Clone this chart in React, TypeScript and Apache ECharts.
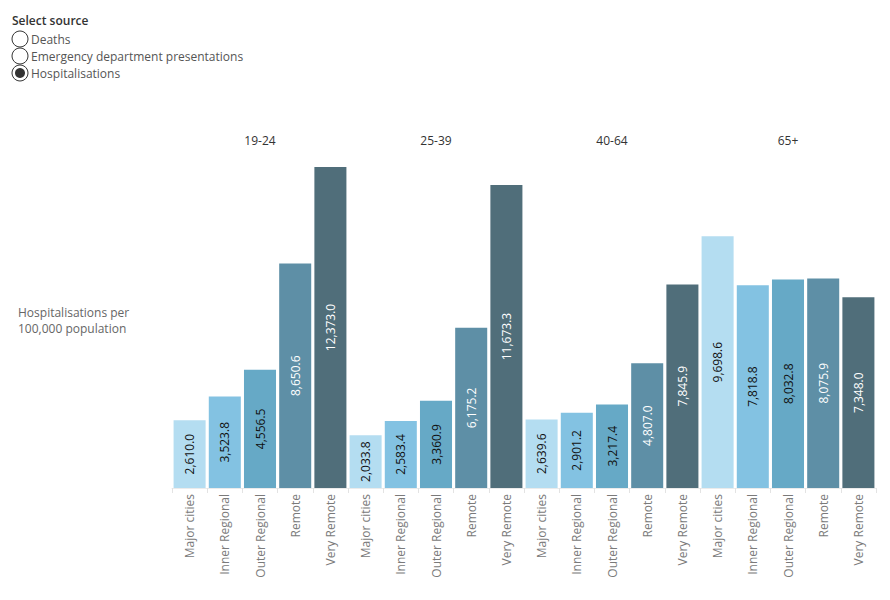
import React, { useEffect, useRef } from "react";
import * as echarts from "echarts";

const ageGroups = ["19-24", "25-39", "40-64", "65+"];
const remoteness = ["Major cities", "Inner Regional", "Outer Regional", "Remote", "Very Remote"];
const values: number[][] = [
  [2610.0, 3523.8, 4556.5, 8650.6, 12373.0],
  [2033.8, 2583.4, 3360.9, 6175.2, 11673.3],
  [2639.6, 2901.2, 3217.4, 4807.0, 7845.9],
  [9698.6, 7818.8, 8032.8, 8075.9, 7348.0],
];
const sources = ["Deaths", "Emergency department presentations", "Hospitalisations"];
const selectedSource = "Hospitalisations";
const yTitle = ["Hospitalisations per", "100,000 population"];

const barColors = ["#b4ddf1", "#83c2e2", "#66a9c6", "#5e8fa6", "#506e7a"];
const labelColors = ["#111", "#111", "#111", "#fff", "#fff"];

const FONT = "'Open Sans', 'Noto Sans', sans-serif";
const fmt = new Intl.NumberFormat("en-US", { minimumFractionDigits: 1, maximumFractionDigits: 1 });

export default function App() {
  const ref = useRef<HTMLDivElement>(null);
  useEffect(() => {
    if (!ref.current) return;
    const chart = echarts.init(ref.current, null, { renderer: "svg" });
    const gridLeft0 = 172;
    const gridW = 176;
    const grids = ageGroups.map((_, i) => ({
      left: gridLeft0 + i * gridW,
      width: gridW,
      top: 150.7,
      bottom: 112,
    }));
    const xAxes: any[] = [];
    const yAxes: any[] = [];
    const series: any[] = [];
    ageGroups.forEach((g, i) => {
      xAxes.push({
        type: "category",
        gridIndex: i,
        data: remoteness,
        axisLine: { show: true, lineStyle: { color: "#ebebeb" } },
        axisTick: { show: true, length: 5, lineStyle: { color: "#e3e3e3" } },
        axisLabel: {
          rotate: 90,
          color: "#7a7a7a",
          fontSize: 12,
          fontFamily: FONT,
          margin: 6,
        },
      });
      xAxes.push({
        type: "category",
        gridIndex: i,
        position: "top",
        data: [g],
        axisLine: { show: false },
        axisTick: { show: false },
        axisLabel: { color: "#333", fontSize: 12, fontFamily: FONT, margin: 4 },
      });
      yAxes.push({
        type: "value",
        gridIndex: i,
        min: 0,
        max: 13000,
        show: false,
        splitLine: { show: false },
      });
      series.push({
        type: "bar",
        xAxisIndex: i * 2,
        yAxisIndex: i,
        barCategoryGap: "9%",
        data: values[i].map((v, j) => ({
          value: v,
          itemStyle: { color: barColors[j] },
          label: { color: labelColors[j] },
        })),
        label: {
          show: true,
          position: "inside",
          rotate: 90,
          fontSize: 12,
          fontFamily: FONT,
          formatter: (p: any) => fmt.format(p.value),
        },
      });
    });

    const graphics: any[] = [
      {
        type: "text",
        left: 12,
        top: 14,
        style: { text: "Select source", font: `600 12px ${FONT}`, fill: "#333" },
      },
    ];
    sources.forEach((s, k) => {
      const cy = 39 + k * 17;
      graphics.push({
        type: "circle",
        shape: { cx: 20, cy, r: 8 },
        style: { fill: "#fff", stroke: "#333", lineWidth: 1 },
      });
      if (s === selectedSource) {
        graphics.push({
          type: "circle",
          shape: { cx: 20, cy, r: 5 },
          style: { fill: "#333" },
        });
      }
      graphics.push({
        type: "text",
        x: 31,
        y: cy,
        style: {
          text: s,
          font: `12px ${FONT}`,
          fill: "#555",
          textVerticalAlign: "middle",
          verticalAlign: "middle",
        },
      });
    });
    yTitle.forEach((t, k) => {
      graphics.push({
        type: "text",
        x: 18,
        y: 312 + k * 16,
        style: {
          text: t,
          font: `12px ${FONT}`,
          fill: "#666",
          verticalAlign: "middle",
        },
      });
    });

    chart.setOption({
      animation: false,
      textStyle: { fontFamily: FONT },
      grid: grids,
      xAxis: xAxes,
      yAxis: yAxes,
      series,
      graphic: graphics,
    });
    return () => chart.dispose();
  }, []);
  return (
    <div
      ref={ref}
      style={{ position: "fixed", left: 0, top: 0, width: 890, height: 600, background: "#fff" }}
    />
  );
}
